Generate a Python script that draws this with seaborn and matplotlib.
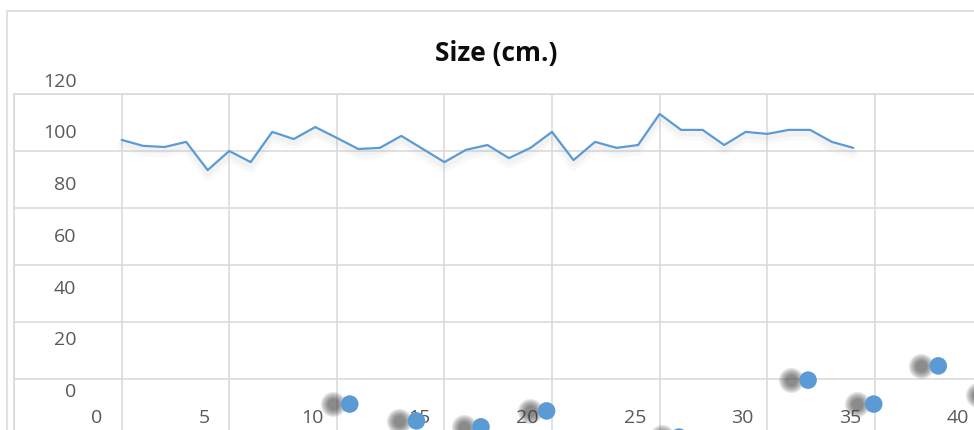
import numpy as np
import pandas as pd
import matplotlib
matplotlib.use("Agg")
import matplotlib.pyplot as plt
import matplotlib.patheffects as pe
import matplotlib.transforms as mtransforms
from matplotlib.patches import Rectangle
import seaborn as sns

# data
line_x = list(range(1, 36))
size_cm = [103.9, 101.8, 101.4, 103.2, 93.3, 100.0, 96.1, 106.7, 104.2, 108.4,
           104.6, 100.7, 101.1, 105.3, 100.7, 96.1, 100.4, 102.1, 97.5, 101.1,
           106.7, 96.8, 103.2, 101.1, 102.1, 113.0, 107.4, 107.4, 102.1, 106.7,
           106.0, 107.4, 107.4, 103.2, 101.1]
point_x = [11.6, 14.7, 17.7, 20.75, 26.9, 32.9, 35.95, 38.95, 41.6]
point_y = [11.2, 5.3, 3.2, 8.8, -0.4, 19.6, 11.2, 24.6, 14.4]
x_labels = [0, 5, 10, 15, 20, 25, 30, 35, 40]
y_labels = [0, 20, 40, 60, 80, 100, 120]

BLUE = "#5b9bd5"
GRID = "#d9d9d9"
TXT = "#595959"

sns.set_theme(style="white")
plt.rcParams["font.family"] = ["Open Sans", "DejaVu Sans"]

W, H = 974, 430
fig = plt.figure(figsize=(W / 100, H / 100), dpi=100)

# chart outer border (partly off-image)
fig.patches.append(Rectangle((7 / W, -0.1), 1.2, (H - 11) / H + 0.1,
                             transform=fig.transFigure, fill=False,
                             edgecolor=GRID, linewidth=1.1))

# plot area: 21.52 px per x unit, 2.85 px per y unit
x0, x1 = -4, 41
y0, y1 = -10, 120
ax_w = (x1 - x0) * 21.52
ax_h = (y1 - y0) * 2.85
top = (H - 94) / H
ax = fig.add_axes([14 / W, top - ax_h / H, ax_w / W, ax_h / H])
ax.set_xlim(x0, x1)
ax.set_ylim(y0, y1)

ax.set_xticks(np.arange(-4, 42, 5))
ax.set_yticks(y_labels[1:])
ax.tick_params(length=0, labelbottom=False, labelleft=False)
ax.grid(True, color=GRID, linewidth=1.1)
for s in ax.spines.values():
    s.set_color(GRID)
    s.set_linewidth(1.1)

df_line = pd.DataFrame({"x": line_x, "size": size_cm})
sns.lineplot(data=df_line, x="x", y="size", ax=ax, color=BLUE, linewidth=1.6,
             legend=False)
ax.lines[-1].set_path_effects([
    pe.SimpleLineShadow(offset=(0, -4), shadow_color="#a0a0a0", alpha=0.06, linewidth=7),
    pe.SimpleLineShadow(offset=(0, -3), shadow_color="#a0a0a0", alpha=0.08, linewidth=3.5),
    pe.Normal()])
ax.lines[-1].set_clip_on(False)

# blurred shadows of the points, shifted left
shadow_tr = mtransforms.offset_copy(ax.transData, fig=fig, x=-17, y=0, units="dots")
df_pts = pd.DataFrame({"x": point_x, "y": point_y})
for sz in [330, 270, 215, 170, 130, 95, 65]:
    ax.scatter(df_pts["x"], df_pts["y"], s=sz, color="#404040", alpha=0.12,
               linewidths=0, transform=shadow_tr, clip_on=False, zorder=3)
sns.scatterplot(data=df_pts, x="x", y="y", ax=ax, s=160, color=BLUE,
                edgecolor="none", zorder=4, legend=False, clip_on=False)
ax.set_xlabel("")
ax.set_ylabel("")

# axis labels sit offset from the gridlines
for v in x_labels:
    ax.text(v - 0.15, 6.3, str(v), ha="center", va="center", fontsize=14,
            color=TXT, clip_on=False, zorder=2)
for v in y_labels:
    ax.text(-1.1, 15.4 + 0.9075 * v, str(v), ha="right", va="center",
            fontsize=14, color=TXT, clip_on=False, zorder=2)

fig.text(496 / W, 1 - 54 / H, "Size (cm.)", ha="center", va="center",
         fontsize=19, fontweight="bold", color="#0d0d0d")

fig.savefig("out.png", dpi=100)
